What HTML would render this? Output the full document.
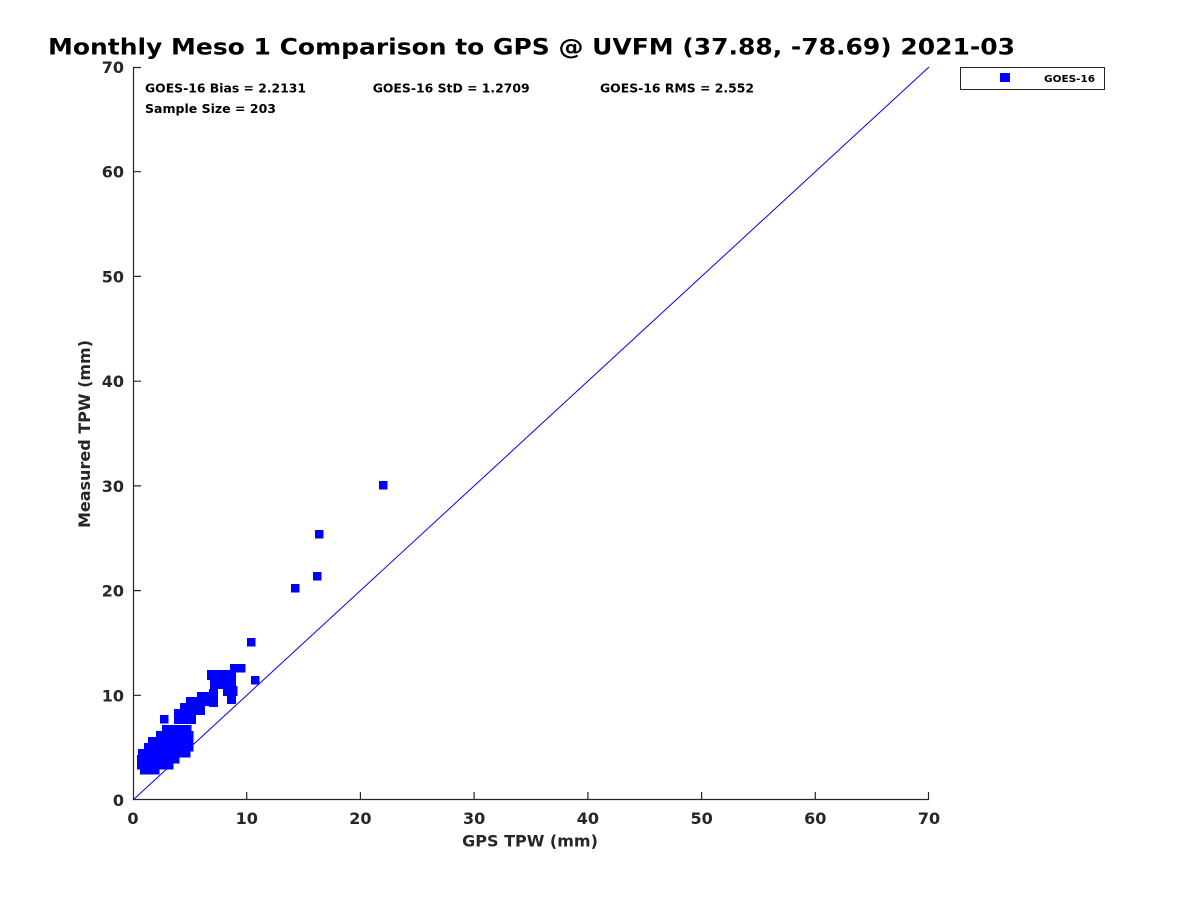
<!DOCTYPE html>
<html>
<head>
<meta charset="utf-8">
<style>
  html, body { margin: 0; padding: 0; background: #ffffff; }
  svg { display: block; }
  text { font-family: "DejaVu Sans", "Liberation Sans", sans-serif; font-weight: bold; }
</style>
</head>
<body>
<svg width="1200" height="900" viewBox="0 0 1200 900" xmlns="http://www.w3.org/2000/svg">
  <rect x="0" y="0" width="1200" height="900" fill="#ffffff"/>
  <text x="48" y="54.5" font-size="22" fill="#000" textLength="967" lengthAdjust="spacingAndGlyphs">Monthly Meso 1 Comparison to GPS @ UVFM (37.88, -78.69) 2021-03</text>
  <line x1="133" y1="800" x2="929" y2="67" stroke="#0000ff" stroke-width="1"/>

  <g fill="#0000ff">
    <path d="M379 481h8.5v8.5h-8.5z M315 530h8.5v8.5h-8.5z M313 572h8.5v8.5h-8.5z M291 584h8.5v8.5h-8.5z M247 638h8.5v8.5h-8.5z M251 676h8.5v8.5h-8.5z M160 715h8.5v8.5h-8.5z"/>
    <path d="M230 664h15.5v8.5h-15.5z M207 670h29v10h-29z M210 677h26v12h-26z M223 686h14.5v10h-14.5z M227 694h9v10h-9z"/>
    <path d="M209 689h9v18h-9z M197 692h15v14h-15z M186 697h15v13h-15z M180 703h15v12h-15z M174 709h22v15h-22z M196 706h9v9h-9z"/>
    <polygon points="162,725 191.5,725 191.5,731 193.5,731 193.5,751.5 190.5,751.5 190.5,757.5 179.5,757.5 179.5,763.5 173.5,763.5 173.5,769.5 159.5,769.5 159.5,774.5 140,774.5 140,769.5 137,769.5 137,755 138,755 138,749 144,749 144,743 148,743 148,737 156,737 156,731 162,731"/>
  </g>

  <g stroke="#262626" stroke-width="1.2" fill="none">
    <path d="M133.5 67V800 M133 799.5H929"/>
    <path d="M246.7 800v-8 M360.4 800v-8 M474.1 800v-8 M587.9 800v-8 M701.6 800v-8 M815.3 800v-8 M928.5 800v-8"/>
    <path d="M133 695.3h8 M133 590.6h8 M133 485.9h8 M133 381.2h8 M133 276.4h8 M133 171.7h8 M133 67.5h8"/>
  </g>

  <g font-size="16" fill="#262626" text-anchor="middle">
    <text x="133" y="824">0</text>
    <text x="246.7" y="824">10</text>
    <text x="360.4" y="824">20</text>
    <text x="474.1" y="824">30</text>
    <text x="587.9" y="824">40</text>
    <text x="701.6" y="824">50</text>
    <text x="815.3" y="824">60</text>
    <text x="929" y="824">70</text>
  </g>
  <g font-size="16" fill="#262626" text-anchor="end">
    <text x="124" y="806">0</text>
    <text x="124" y="701.3">10</text>
    <text x="124" y="596.6">20</text>
    <text x="124" y="491.9">30</text>
    <text x="124" y="387.2">40</text>
    <text x="124" y="282.4">50</text>
    <text x="124" y="177.7">60</text>
    <text x="124" y="73">70</text>
  </g>

  <text x="530" y="846.5" font-size="16" fill="#262626" text-anchor="middle">GPS TPW (mm)</text>
  <text transform="translate(90,434) rotate(-90)" x="0" y="0" font-size="16" fill="#262626" text-anchor="middle">Measured TPW (mm)</text>

  <g font-size="12.5" fill="#000">
    <text x="145" y="92.5" textLength="161" lengthAdjust="spacingAndGlyphs">GOES-16 Bias = 2.2131</text>
    <text x="372.7" y="92.5" textLength="157" lengthAdjust="spacingAndGlyphs">GOES-16 StD = 1.2709</text>
    <text x="600" y="92.5" textLength="154" lengthAdjust="spacingAndGlyphs">GOES-16 RMS = 2.552</text>
    <text x="145" y="113" textLength="131" lengthAdjust="spacingAndGlyphs">Sample Size = 203</text>
  </g>

  <rect x="960.5" y="67.5" width="144" height="22" fill="#ffffff" stroke="#262626" stroke-width="1"/>
  <rect x="1000" y="73" width="10" height="9" fill="#0000ff"/>
  <text x="1044" y="82" font-size="10" fill="#000" textLength="51" lengthAdjust="spacingAndGlyphs">GOES-16</text>
</svg>
</body>
</html>
